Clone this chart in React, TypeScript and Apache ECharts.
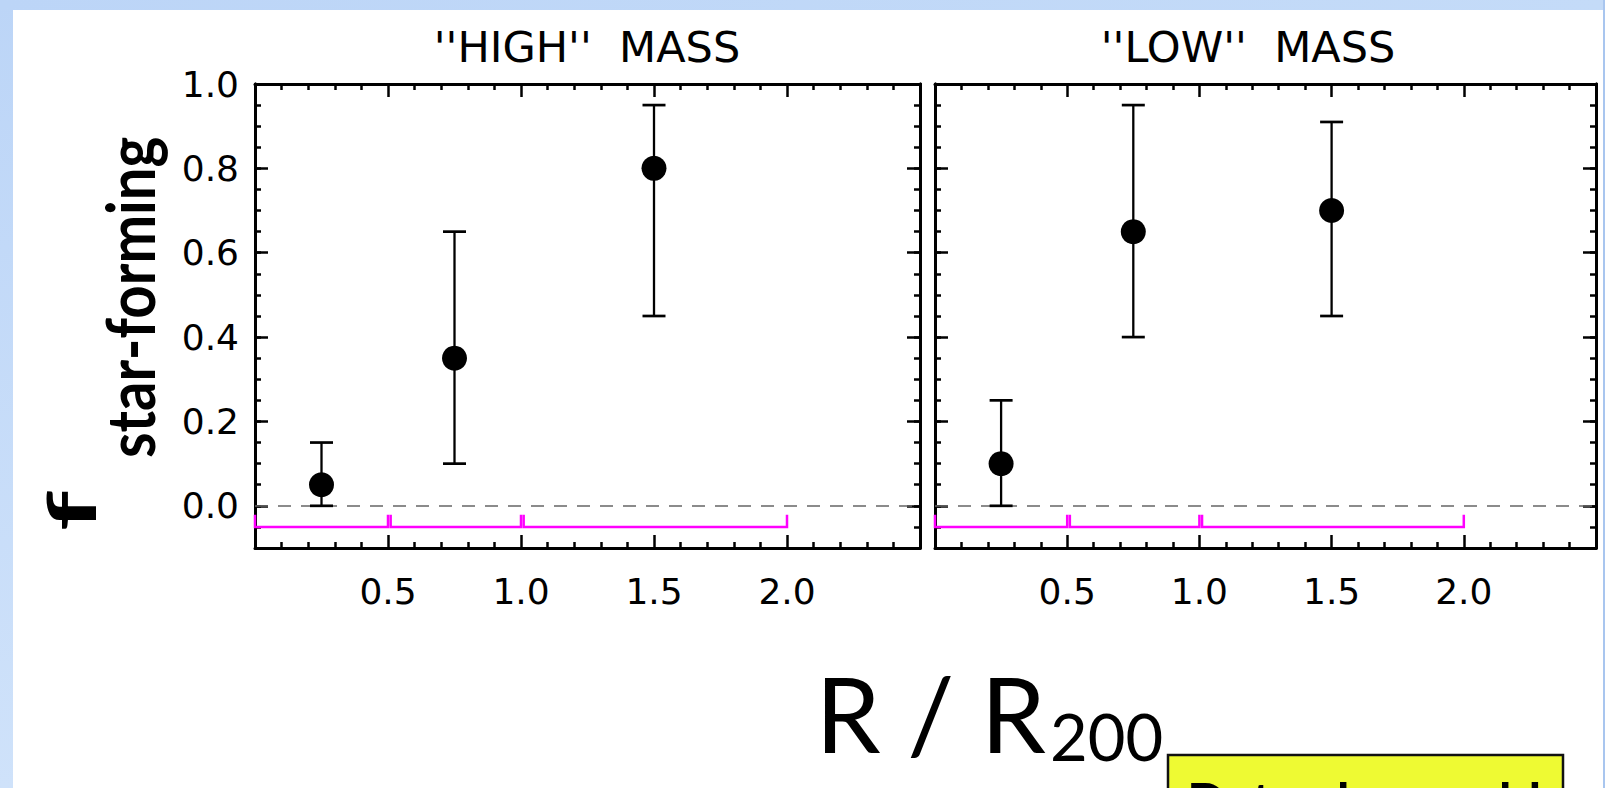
import React, { useEffect, useRef } from 'react';
import * as echarts from 'echarts';

// ---- data ----
const radius = [0.25, 0.75, 1.5];
const highMassFrac = [0.05, 0.35, 0.8];
const highMassLow = [0.0, 0.1, 0.45];
const highMassHigh = [0.15, 0.65, 0.95];
const lowMassFrac = [0.1, 0.65, 0.7];
const lowMassLow = [0.0, 0.4, 0.45];
const lowMassHigh = [0.25, 0.95, 0.91];
const binStart = [0.0, 0.51, 1.01];
const binEnd = [0.5, 1.0, 2.0];
const panelTitles = ["''HIGH''  MASS", "''LOW''  MASS"];
const xRange = [0, 2.5];
const yRange = [-0.1, 1.0];
const xMajor = 0.5;
const yMinor = 0.05;
const binLevel = -0.05;
const binTip = -0.021;

const TICK_FONT = 'DejaVu Sans';
const TITLE_FONT = 'Lato';

const fmt = (v: number) => Number(v).toFixed(1);

function xAxesFor(g: number) {
  const base = {
    gridIndex: g,
    type: 'value',
    min: xRange[0],
    max: xRange[1],
    interval: xMajor,
    axisLine: { show: true, onZero: false, lineStyle: { color: '#000', width: 3 } },
    axisTick: { show: true, inside: true, length: 13, lineStyle: { color: '#000', width: 2.5 } },
    minorTick: { show: true, splitNumber: 5, length: 6, lineStyle: { color: '#000', width: 2.5 } },
    splitLine: { show: false },
    minorSplitLine: { show: false },
  };
  return [
    {
      ...base,
      position: 'bottom',
      axisLabel: {
        show: true,
        showMinLabel: false,
        showMaxLabel: false,
        color: '#000',
        fontFamily: TICK_FONT,
        fontSize: 36,
        lineHeight: 36,
        margin: 25,
        formatter: fmt,
      },
    },
    { ...base, position: 'top', axisLabel: { show: false } },
  ];
}

function yAxesFor(g: number) {
  const common = {
    gridIndex: g,
    type: 'value',
    min: yRange[0],
    max: yRange[1],
    axisLine: { show: true, onZero: false, lineStyle: { color: '#000', width: 3 } },
    splitLine: { show: false },
  };
  const major = (pos: string, labels: boolean) => ({
    ...common,
    position: pos,
    splitNumber: 5,
    axisTick: { show: true, inside: true, length: 13, lineStyle: { color: '#000', width: 2.5 } },
    axisLabel: {
      show: labels,
      showMinLabel: false,
      color: '#000',
      fontFamily: TICK_FONT,
      fontSize: 36,
      margin: 16,
      formatter: fmt,
    },
  });
  const minor = (pos: string) => ({
    ...common,
    position: pos,
    interval: yMinor,
    axisTick: { show: true, inside: true, length: 6, lineStyle: { color: '#000', width: 2.5 } },
    axisLabel: { show: false },
  });
  return [major('left', g === 0), minor('left'), major('right', false), minor('right')];
}

function seriesFor(g: number, frac: number[], low: number[], high: number[]) {
  const xi = 2 * g;
  const yi = 4 * g;
  return [
    {
      type: 'custom',
      xAxisIndex: xi,
      yAxisIndex: yi,
      silent: true,
      z: 2,
      data: binStart.map((s, i) => [s, binEnd[i]]),
      encode: { x: [0, 1] },
      renderItem: (_p: any, api: any) => {
        const s = api.value(0);
        const e = api.value(1);
        return {
          type: 'polyline',
          shape: {
            points: [
              api.coord([s, binTip]),
              api.coord([s, binLevel]),
              api.coord([e, binLevel]),
              api.coord([e, binTip]),
            ],
          },
          style: { stroke: '#ff00ff', lineWidth: 2.5, fill: 'none' },
        };
      },
    },
    {
      type: 'custom',
      xAxisIndex: xi,
      yAxisIndex: yi,
      silent: true,
      z: 3,
      data: radius.map((r, i) => [r, low[i], high[i]]),
      encode: { x: 0, y: [1, 2] },
      renderItem: (_p: any, api: any) => {
        const x = api.value(0);
        const lo = api.coord([x, api.value(1)]);
        const hi = api.coord([x, api.value(2)]);
        const hw = 11.5;
        const st = { stroke: '#000', lineWidth: 2.3 };
        return {
          type: 'group',
          children: [
            { type: 'line', shape: { x1: lo[0], y1: lo[1], x2: hi[0], y2: hi[1] }, style: st },
            { type: 'line', shape: { x1: lo[0] - hw, y1: lo[1], x2: lo[0] + hw, y2: lo[1] }, style: { ...st, lineWidth: 2.7 } },
            { type: 'line', shape: { x1: hi[0] - hw, y1: hi[1], x2: hi[0] + hw, y2: hi[1] }, style: { ...st, lineWidth: 2.7 } },
          ],
        };
      },
    },
    {
      type: 'scatter',
      xAxisIndex: xi,
      yAxisIndex: yi,
      z: 5,
      symbol: 'circle',
      symbolSize: 25,
      itemStyle: { color: '#000', opacity: 1 },
      data: radius.map((r, i) => [r, frac[i]]),
      markLine: {
        silent: true,
        symbol: 'none',
        label: { show: false },
        lineStyle: { color: '#666', width: 1.5, type: [13, 10] },
        data: [{ yAxis: 0 }],
        z: 1,
      },
    },
  ];
}

export default function App() {
  const ref = useRef<HTMLDivElement>(null);

  useEffect(() => {
    if (!ref.current) return;
    const chart = echarts.init(ref.current, null, { renderer: 'svg' });
    const option: any = {
      animation: false,
      backgroundColor: '#ffffff',
      grid: [
        { left: 255, top: 84, width: 665, height: 464 },
        { left: 935, top: 84, width: 661, height: 464 },
      ],
      xAxis: [...xAxesFor(0), ...xAxesFor(1)],
      yAxis: [...yAxesFor(0), ...yAxesFor(1)],
      series: [
        ...seriesFor(0, highMassFrac, highMassLow, highMassHigh),
        ...seriesFor(1, lowMassFrac, lowMassLow, lowMassHigh),
      ],
      graphic: [
        // slide background edges
        {
          type: 'rect',
          shape: { x: 0, y: 0, width: 13, height: 788 },
          style: {
            fill: new echarts.graphic.LinearGradient(0, 0, 0, 1, [
              { offset: 0, color: '#bcd5f7' },
              { offset: 1, color: '#cfe2fa' },
            ]),
          },
          silent: true,
        },
        {
          type: 'rect',
          shape: { x: 0, y: 0, width: 1605, height: 10 },
          style: {
            fill: new echarts.graphic.LinearGradient(0, 0, 1, 0, [
              { offset: 0, color: '#bcd5f7' },
              { offset: 1, color: '#c4dbf8' },
            ]),
          },
          silent: true,
        },
        {
          type: 'rect',
          shape: { x: 1603, y: 0, width: 2, height: 788 },
          style: { fill: '#a9c6ef' },
          silent: true,
        },
        // panel titles
        {
          type: 'text',
          x: 587,
          y: 47,
          style: {
            text: panelTitles[0],
            fontFamily: TICK_FONT,
            fontSize: 43,
            fill: '#000',
            align: 'center',
            verticalAlign: 'middle',
          },
        },
        {
          type: 'text',
          x: 1248,
          y: 47,
          style: {
            text: panelTitles[1],
            fontFamily: TICK_FONT,
            fontSize: 43,
            fill: '#000',
            align: 'center',
            verticalAlign: 'middle',
          },
        },
        // y axis title: f with subscript
        {
          type: 'text',
          x: 71,
          y: 531,
          rotation: Math.PI / 2,
          scaleX: 1.7,
          style: {
            text: 'f',
            fontFamily: TITLE_FONT,
            fontWeight: 'bold',
            fontSize: 66,
            fill: '#000',
            align: 'left',
            verticalAlign: 'middle',
          },
        },
        {
          type: 'text',
          x: 130,
          y: 458,
          rotation: Math.PI / 2,
          scaleX: 0.88,
          style: {
            text: 'star-forming',
            fontFamily: TITLE_FONT,
            fontWeight: 'bold',
            fontSize: 66,
            fill: '#000',
            align: 'left',
            verticalAlign: 'middle',
          },
        },
        // x axis title: R / R200
        {
          type: 'text',
          x: 1046,
          y: 712,
          style: {
            text: 'R / R',
            fontFamily: TITLE_FONT,
            fontSize: 104,
            fill: '#000',
            align: 'right',
            verticalAlign: 'middle',
          },
        },
        {
          type: 'text',
          x: 1050,
          y: 736,
          style: {
            text: '200',
            fontFamily: TITLE_FONT,
            fontSize: 65,
            fill: '#000',
            align: 'left',
            verticalAlign: 'middle',
          },
        },
        // yellow note box, cut by the page edge
        {
          type: 'rect',
          shape: { x: 1168, y: 755, width: 395, height: 60 },
          style: { fill: '#eefa33', stroke: '#111', lineWidth: 2.5 },
          silent: true,
        },
        {
          type: 'text',
          x: 1187,
          y: 800,
          style: {
            text: 'Data also could',
            fontFamily: TITLE_FONT,
            fontWeight: 'bold',
            fontSize: 52,
            fill: '#000',
            align: 'left',
            verticalAlign: 'middle',
          },
        },
      ],
    };
    chart.setOption(option);
    return () => chart.dispose();
  }, []);

  return (
    <div
      ref={ref}
      style={{ position: 'fixed', left: 0, top: 0, width: 1605, height: 788, background: '#fff' }}
    />
  );
}
